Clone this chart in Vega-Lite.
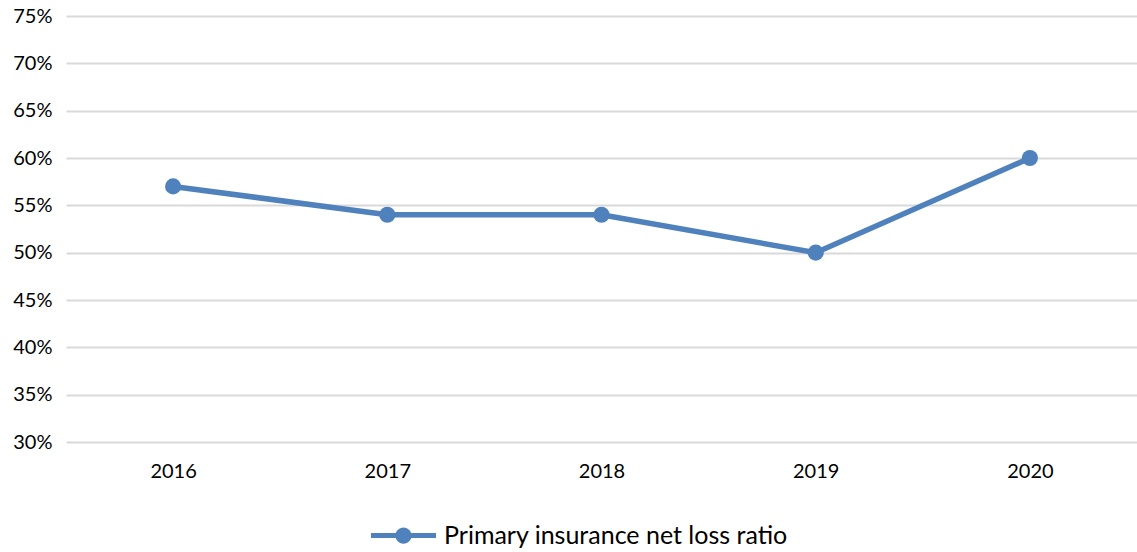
{
  "$schema": "https://vega.github.io/schema/vega-lite/v6.json",
  "width": 1071,
  "height": 426,
  "autosize": {"type": "none"},
  "padding": {"left": 66, "top": 16, "right": 0, "bottom": 110},
  "background": "white",
  "config": {
    "view": {"stroke": null},
    "font": "Lato"
  },
  "data": {
    "values": [
      {"year": "2016", "ratio": 0.57, "series": "Primary insurance net loss ratio"},
      {"year": "2017", "ratio": 0.54, "series": "Primary insurance net loss ratio"},
      {"year": "2018", "ratio": 0.54, "series": "Primary insurance net loss ratio"},
      {"year": "2019", "ratio": 0.50, "series": "Primary insurance net loss ratio"},
      {"year": "2020", "ratio": 0.60, "series": "Primary insurance net loss ratio"}
    ]
  },
  "encoding": {
    "x": {
      "field": "year", "type": "ordinal",
      "scale": {"type": "point", "padding": 0.5},
      "axis": {"title": null, "labelAngle": 0, "domain": false, "ticks": false, "grid": false,
               "labelFontSize": 20, "labelColor": "#000000", "labelPadding": 19, "labelFont": "Lato"}
    },
    "y": {
      "field": "ratio", "type": "quantitative",
      "scale": {"domain": [0.3, 0.75], "nice": false, "zero": false},
      "axis": {"title": null, "format": ".0%", "values": [0.3,0.35,0.4,0.45,0.5,0.55,0.6,0.65,0.7,0.75],
               "domain": false, "ticks": false, "grid": true, "gridColor": "#D9D9D9", "gridWidth": 2,
               "labelFontSize": 20, "labelColor": "#000000", "labelPadding": 14, "labelFont": "Lato"}
    },
    "color": {
      "field": "series", "type": "nominal",
      "scale": {"range": ["#4F81BD"]},
      "legend": {
        "title": null, "orient": "none", "legendX": 305, "legendY": 487,
        "symbolType": "M-1,-0.08 H-0.22 V0.08 H-1 Z M0.22,-0.08 H1 V0.08 H0.22 Z M0.25,0 A0.25,0.25 0 1,1 -0.25,0 A0.25,0.25 0 1,1 0.25,0 Z",
        "symbolSize": 4225, "symbolStrokeWidth": 0, "symbolOpacity": 1, "symbolFillColor": "#4F81BD",
        "labelFontSize": 25, "labelColor": "#000000", "labelFont": "Lato", "labelOffset": 8, "labelLimit": 0
      }
    }
  },
  "layer": [
    {"mark": {"type": "line", "strokeWidth": 5.5}},
    {"mark": {"type": "point", "filled": true, "size": 260, "opacity": 1}}
  ]
}
